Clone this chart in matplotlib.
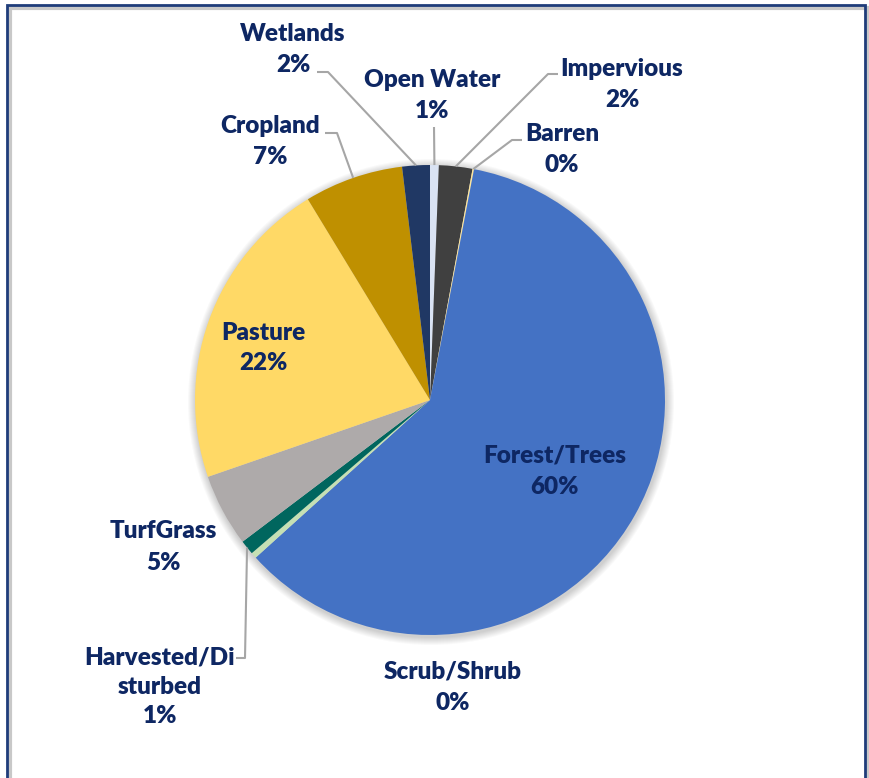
import numpy as np
import matplotlib.pyplot as plt
from matplotlib.patches import Circle, Rectangle

# land cover shares (percent), clockwise from 12 o'clock
categories = ["Open Water", "Impervious", "Barren", "Forest/Trees", "Scrub/Shrub",
              "Harvested/Disturbed", "TurfGrass", "Pasture", "Cropland", "Wetlands"]
shares = [0.6, 2.3, 0.1, 60.3, 0.4, 1.0, 5.0, 21.6, 6.8, 1.9]
colors = ["#DAE3F3", "#404040", "#FFE699", "#4472C4", "#C5E0B4",
          "#00665E", "#AEAAAA", "#FFD966", "#BF9000", "#203864"]
label_names = ["Open Water", "Impervious", "Barren", "Forest/Trees", "Scrub/Shrub",
               "Harvested/Di\nsturbed", "TurfGrass", "Pasture", "Cropland", "Wetlands"]

W, H = 870, 778
CX, CY, R = 430, 400, 235
TXT = "#0E2763"
LEAD = "#A6A6A6"

# label layout in image pixels (x, y of text centre) and leader knee points
label_pos = {
    "Open Water": (432, 95), "Impervious": (622, 84), "Barren": (562, 149),
    "Forest/Trees": (555, 471), "Scrub/Shrub": (453, 687),
    "Harvested/Disturbed": (160, 687), "TurfGrass": (163, 547),
    "Pasture": (263, 348), "Cropland": (270, 141), "Wetlands": (293, 49),
}
leaders = {
    "Wetlands": [(317, 72), (328, 72)],
    "Open Water": [(434, 127)],
    "Impervious": [(558, 74), (548, 74)],
    "Barren": [(522, 140), (512, 140)],
    "Cropland": [(325, 133), (337, 133)],
    "Harvested/Disturbed": [(236, 658), (245, 658)],
}


def py(y):
    return H - y


fig = plt.figure(figsize=(W / 100, H / 100), dpi=100)
ax = fig.add_axes([0, 0, 1, 1])

# soft shadow behind the pie
for k in range(8, 0, -1):
    ax.add_patch(Circle((CX + 1, py(CY) - 2), R + k, color="#000000",
                        alpha=0.025, lw=0, zorder=0))

wedges, _ = ax.pie(shares, colors=colors, startangle=90, counterclock=False,
                   radius=R, center=(CX, py(CY)),
                   wedgeprops=dict(linewidth=0, zorder=2))

font = dict(fontsize=17.5, fontweight="heavy", color=TXT, family=["Lato", "DejaVu Sans"],
            ha="center", va="center", linespacing=1.5, zorder=5)

for w, cat, name, share in zip(wedges, categories, label_names, shares):
    x, y = label_pos[cat]
    ls = 1.4 if "\n" in name else 1.5
    ax.text(x, py(y), f"{name}\n{share:.0f}%", **{**font, "linespacing": ls})
    if cat in leaders:
        mid = np.deg2rad((w.theta1 + w.theta2) / 2)
        edge = (CX + R * np.cos(mid), py(CY) + R * np.sin(mid))
        pts = [(px, py(yy)) for px, yy in leaders[cat]] + [edge]
        xs, ys = zip(*pts)
        ax.plot(xs, ys, color=LEAD, lw=1.5, zorder=3, solid_capstyle="butt")

# outer frame with a slight shadow on the right
ax.add_patch(Rectangle((10, py(790)), 858, 790 - 8, fill=False, ec="#C8C8C8", lw=3, zorder=1))
ax.add_patch(Rectangle((7, py(790)), 858, 790 - 5, fill=False, ec="#1F3C7A", lw=2, zorder=6))

ax.set_xlim(0, W)
ax.set_ylim(0, H)
ax.set_aspect("equal")
ax.axis("off")

fig.savefig("out.png", dpi=100)
